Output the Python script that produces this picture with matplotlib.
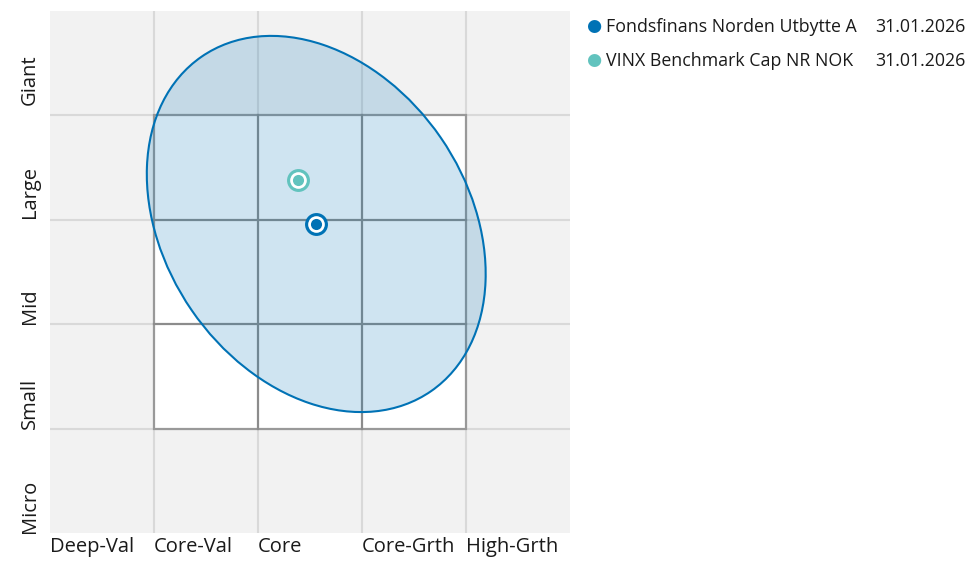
import matplotlib.pyplot as plt
from matplotlib.patches import Ellipse, Rectangle

plt.rcParams['font.family'] = ['Open Sans', 'DejaVu Sans']

# Style box axes
style_labels = ['Deep-Val', 'Core-Val', 'Core', 'Core-Grth', 'High-Grth']
size_labels = ['Micro', 'Small', 'Mid', 'Large', 'Giant']

# Holdings (x = value/growth score, y = size score)
fund_name = 'Fondsfinans Norden Utbytte A'
fund_date = '31.01.2026'
fund_xy = (2.56, 2.96)
bench_name = 'VINX Benchmark Cap NR NOK'
bench_date = '31.01.2026'
bench_xy = (2.38, 3.38)

# Ownership zone ellipse around the fund (width, height, angle in degrees)
zone_width = 3.89
zone_height = 2.91
zone_angle = -55.4

fund_color = '#0072b5'
bench_color = '#62c3be'

fig = plt.figure(figsize=(9.69, 5.61), dpi=100)
ax = fig.add_axes([50 / 969, 28 / 561, 520 / 969, 522 / 561])
ax.set_xlim(0, 5)
ax.set_ylim(0, 5)
ax.set_facecolor('#f2f2f2')
for s in ax.spines.values():
    s.set_visible(False)
ax.set_xticks([])
ax.set_yticks([])

# light grid
for k in range(1, 5):
    ax.axvline(k, color='#d9d9d9', lw=1.5, zorder=1)
    ax.axhline(k, color='#d9d9d9', lw=1.5, zorder=1)

# 3x3 box
ax.add_patch(Rectangle((1, 1), 3, 3, facecolor='white', edgecolor='#999999', lw=1.6, zorder=2))
for k in (2, 3):
    ax.plot([k, k], [1, 4], color='#8c8c8c', lw=1.6, zorder=3)
    ax.plot([1, 4], [k, k], color='#8c8c8c', lw=1.6, zorder=3)

# zone
ax.add_patch(Ellipse(fund_xy, zone_width, zone_height, angle=zone_angle,
                     facecolor=fund_color, alpha=0.19, edgecolor='none', zorder=4))
ax.add_patch(Ellipse(fund_xy, zone_width, zone_height, angle=zone_angle,
                     facecolor='none', edgecolor=fund_color, lw=1.5, zorder=5))

# points
for xy, c in [(bench_xy, bench_color), (fund_xy, fund_color)]:
    ax.plot(*xy, 'o', ms=16.5, color=c, mec='none', zorder=6)
    ax.plot(*xy, 'o', ms=12.0, color='white', mec='none', zorder=7)
    ax.plot(*xy, 'o', ms=8.0, color=c, mec='none', zorder=8)

# axis labels
for i, lab in enumerate(style_labels):
    ax.text(i, -0.04, lab, ha='left', va='top', fontsize=14.5, color='#1a1a1a', clip_on=False)
label_y = [0.0, 1.0, 2.0, 3.02, 4.1]
for lab, y in zip(size_labels, label_y):
    ax.text(-0.19, y, lab, rotation=90, ha='center', va='bottom', fontsize=14.5,
            color='#1a1a1a', clip_on=False)

# legend
for i, (name, date, c) in enumerate([(fund_name, fund_date, fund_color),
                                      (bench_name, bench_date, bench_color)]):
    y = 1 - (27 + 34 * i) / 561
    fig.text(594 / 969, y, '\u25cf', color=c, fontsize=12.5, ha='center', va='center')
    fig.text(606 / 969, y, name, fontsize=12.8, color='#1a1a1a', ha='left', va='center')
    fig.text(875 / 969, y, date, fontsize=12.8, color='#1a1a1a', ha='left', va='center')

fig.savefig('out.png', dpi=100)
